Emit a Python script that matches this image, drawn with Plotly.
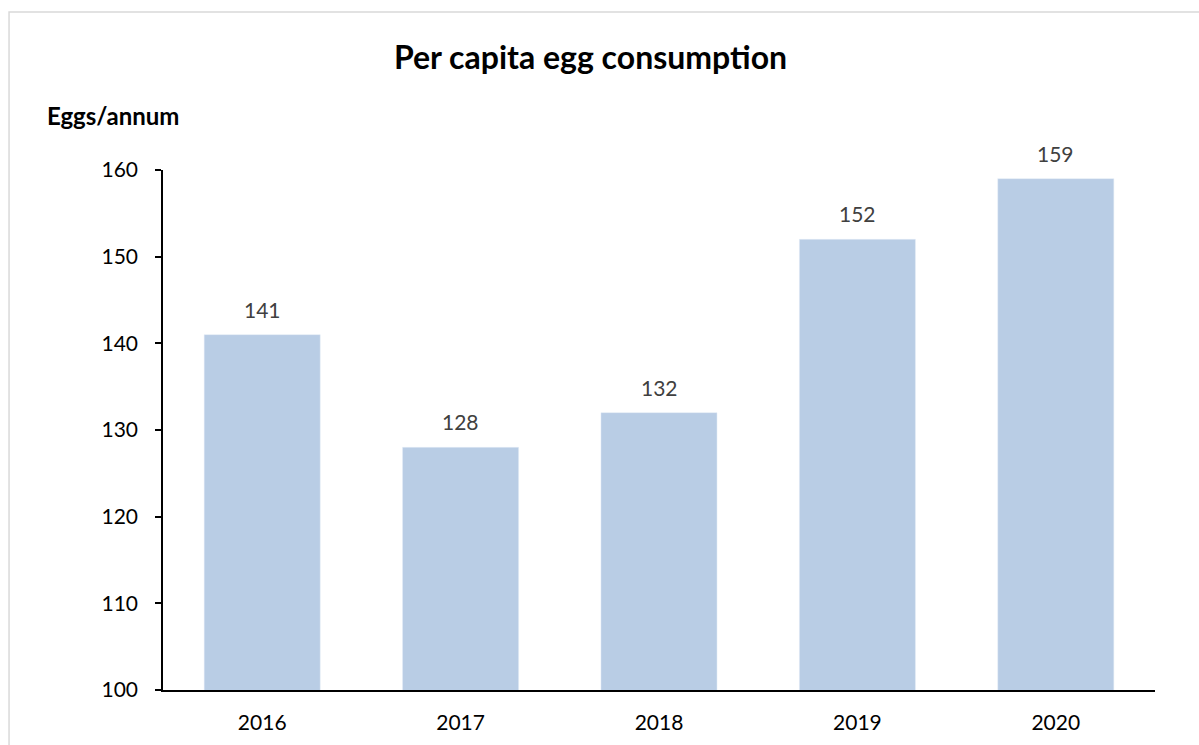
import plotly.graph_objects as go

years = ["2016", "2017", "2018", "2019", "2020"]
eggs_per_capita = [141, 128, 132, 152, 159]
y_ticks = [100, 110, 120, 130, 140, 150, 160]

FONT = "Lato, 'Open Sans', sans-serif"
BAR_COLOR = "#B9CDE5"

fig = go.Figure()
fig.add_trace(go.Bar(
    x=years,
    y=eggs_per_capita,
    marker_color=BAR_COLOR,
    width=0.585,
))

# value labels above each bar (category axis positions are indices)
for i, v in enumerate(eggs_per_capita):
    fig.add_annotation(
        x=i, y=v, xref="x", yref="y",
        text=str(v), showarrow=False,
        yanchor="bottom", yshift=11,
        font=dict(family=FONT, size=21, color="#404040"),
    )

# y-axis unit label
fig.add_annotation(
    x=-0.119, y=1.105, xref="paper", yref="paper",
    text="<b>Eggs/annum</b>", showarrow=False,
    xanchor="left", yanchor="middle",
    font=dict(family=FONT, size=24, color="#000000"),
)

# chart area border
fig.add_shape(
    type="rect", xref="paper", yref="paper",
    x0=-0.1552, x1=1.2, y0=-0.3, y1=1.3038,
    line=dict(color="#D9D9D9", width=1.5),
)

fig.update_layout(
    width=1199, height=745,
    margin=dict(l=163, r=44, t=170, b=55),
    paper_bgcolor="white", plot_bgcolor="white",
    showlegend=False,
    title=dict(
        text="<b>Per capita egg consumption</b>",
        x=0.4925, xanchor="center", y=0.923, yanchor="middle",
        font=dict(family=FONT, size=32, color="#000000"),
    ),
    font=dict(family=FONT, size=21, color="#000000"),
    xaxis=dict(
        type="category", categoryorder="array", categoryarray=years,
        range=[-0.5, 4.5], automargin=False,
        showline=True, linecolor="#000000", linewidth=1.5,
        ticks="", showgrid=False, zeroline=False,
        tickfont=dict(family=FONT, size=21, color="#000000"),
        ticklabelstandoff=13,
    ),
    yaxis=dict(
        range=[100, 160], tickvals=y_ticks, automargin=False,
        showline=True, linecolor="#000000", linewidth=1.5,
        ticks="outside", ticklen=6, tickcolor="#000000", tickwidth=1.5,
        showgrid=False, zeroline=False,
        tickfont=dict(family=FONT, size=21, color="#000000"),
        ticklabelstandoff=13,
    ),
)

fig.write_html("out.html")
